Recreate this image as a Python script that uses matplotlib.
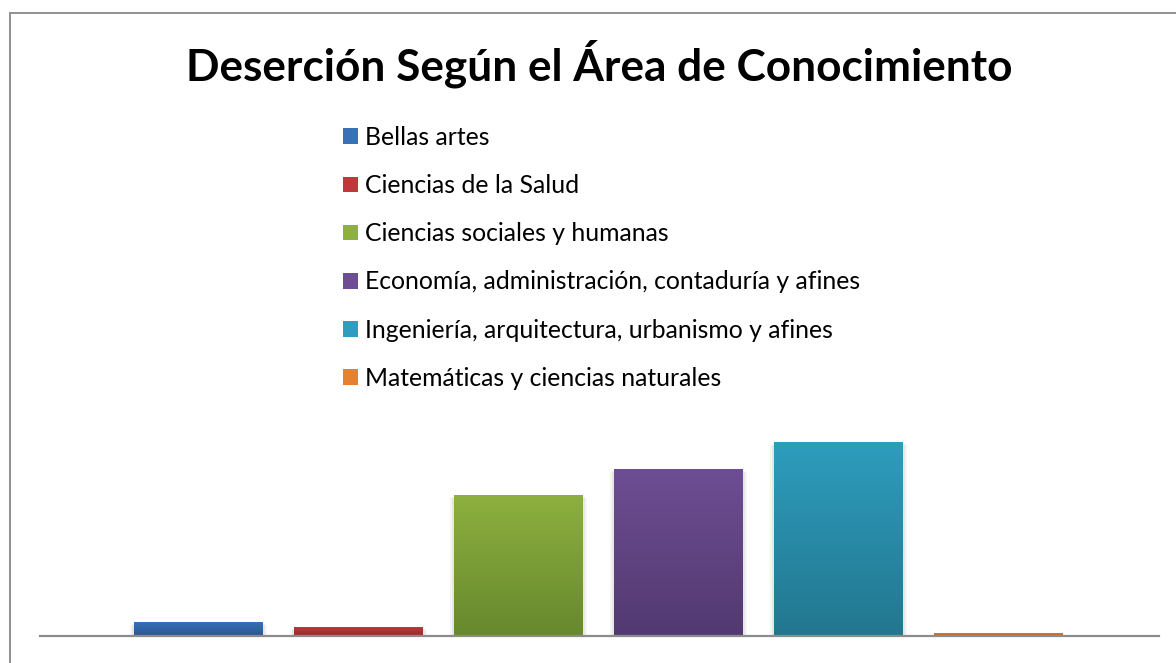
import matplotlib
matplotlib.use('Agg')
import matplotlib.pyplot as plt
import matplotlib.colors as mcolors
import matplotlib.patches as mpatches
import matplotlib.patheffects as pe
import numpy as np

plt.rcParams['font.family'] = ['Lato', 'DejaVu Sans']

# ================= datos =================
titulo = 'Deserción Según el Área de Conocimiento'
areas = [
    'Bellas artes',
    'Ciencias de la Salud',
    'Ciencias sociales y humanas',
    'Economía, administración, contaduría y afines',
    'Ingeniería, arquitectura, urbanismo y afines',
    'Matemáticas y ciencias naturales',
]
desercion = [1.3, 0.8, 14.0, 16.6, 19.3, 0.2]

# colores (arriba, abajo) para el degradado
color_top = ['#3971B9', '#C0393A', '#8DB03F', '#6E4E93', '#2E9DBE', '#E5822F']
color_bot = ['#2B5893', '#992D2B', '#68882D', '#523971', '#22778F', '#C9661C']

W, H = 1176, 663
fig = plt.figure(figsize=(W / 100, H / 100), dpi=100)

# marco gris del gráfico (recortado a la derecha y abajo)
fig.patches.append(mpatches.Rectangle((10 / W, -0.2), 1.5, 1.2 - 13 / H,
                                      transform=fig.transFigure, fill=False,
                                      edgecolor='#888888', linewidth=1.3))

base_px = 635.5
top_px = 385
ax = fig.add_axes([40 / W, (H - base_px) / H, (1159 - 40) / W, (base_px - top_px) / H])

x = np.arange(len(areas))
bars = ax.bar(x, desercion, width=0.806, color='none', linewidth=0)

grad = np.linspace(0, 1, 256).reshape(-1, 1)
for b, c1, c2 in zip(bars, color_top, color_bot):
    cmap = mcolors.LinearSegmentedColormap.from_list('g', [c2, c1])
    x0, w, h = b.get_x(), b.get_width(), b.get_height()
    # sombra suave
    sh = mpatches.Rectangle((x0, 0), w, h, facecolor='none', edgecolor='none')
    ax.add_patch(sh)
    sh.set_path_effects([pe.SimplePatchShadow(offset=(-1.5, -1), shadow_rgbFace='#000000', alpha=0.06),
                         pe.SimplePatchShadow(offset=(1.5, -1), shadow_rgbFace='#000000', alpha=0.06),
                         pe.SimplePatchShadow(offset=(3, -2), shadow_rgbFace='#000000', alpha=0.04),
                         pe.SimplePatchShadow(offset=(-3, -2), shadow_rgbFace='#000000', alpha=0.04)])
    im = ax.imshow(grad, extent=(x0, x0 + w, 0, h), origin='lower', cmap=cmap,
                   aspect='auto', interpolation='bilinear', zorder=2)
    im.set_clip_path(b)

ax.set_xlim(-0.99, 6.003)
ax.set_ylim(0, 25)
for s in ['top', 'right', 'left']:
    ax.spines[s].set_visible(False)
ax.spines['bottom'].set_color('#8C8C8C')
ax.spines['bottom'].set_linewidth(1.6)
ax.spines['bottom'].set_zorder(3)
ax.set_xticks([])
ax.set_yticks([])
ax.patch.set_alpha(0)

renderer = fig.canvas.get_renderer()

# título, ajustado al ancho del original
t = fig.text(599 / W, 1 - 80 / H, titulo, ha='center', va='baseline',
             fontsize=30, fontweight='bold')
wt = t.get_window_extent(renderer).width
t.set_fontsize(30 * 826 / wt)

# leyenda
probe = fig.text(0, 0, areas[3], fontsize=16)
wl = probe.get_window_extent(renderer).width
probe.remove()
fs = 16 * 497 / wl
handles = [mpatches.Patch(facecolor=c, edgecolor='none') for c in color_top]
fs_px = fs * 100 / 72
leg = fig.legend(handles, areas, loc='upper left', frameon=False,
                 bbox_to_anchor=(343 / W, 1 - 126 / H), borderaxespad=0, borderpad=0,
                 fontsize=fs, handlelength=15 / fs_px, handleheight=15 / fs_px,
                 handletextpad=7 / fs_px,
                 labelspacing=(48.4 - fs_px * 1.2) / fs_px + 6.4 / fs_px)

fig.savefig('out.png', dpi=100)
